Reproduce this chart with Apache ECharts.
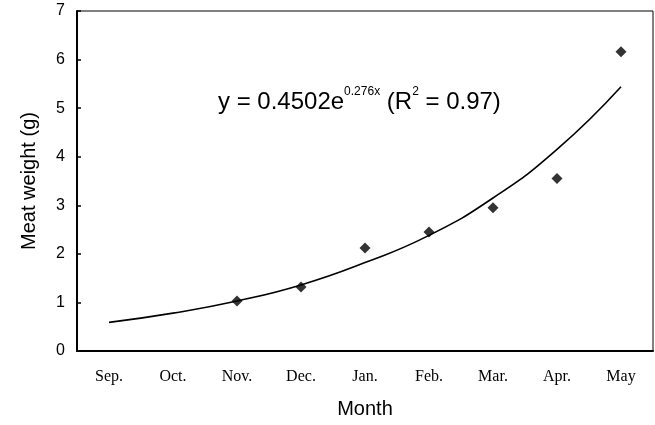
<!DOCTYPE html>
<html>
<head>
<meta charset="utf-8">
<script src="https://cdn.jsdelivr.net/npm/echarts@6/dist/echarts.min.js"></script>
<style>html,body{margin:0;padding:0;background:#fff;}#c{width:655px;height:425px;}</style>
</head>
<body>
<div id="c"></div>
<script>
const months = ['Sep.', 'Oct.', 'Nov.', 'Dec.', 'Jan.', 'Feb.', 'Mar.', 'Apr.', 'May'];
const observed = ['-', '-', 1.03, 1.32, 2.12, 2.45, 2.95, 3.55, 6.16];
const fitted = [0.59, 0.78, 1.03, 1.36, 1.82, 2.38, 3.15, 4.15, 5.44];
const yTicks = [0, 1, 2, 3, 4, 5, 6, 7];

const chart = echarts.init(document.getElementById('c'));
chart.setOption({
  animation: false,
  backgroundColor: '#fff',
  grid: { left: 77, right: 2, top: 11, bottom: 74, show: true, borderColor: '#000', borderWidth: 1 },
  graphic: [{
    type: 'text',
    left: 218,
    top: 86,
    style: {
      text: '{b|y = 0.4502e}{s|0.276x}{b| (R}{s|2}{b| = 0.97)}',
      rich: {
        b: { fontFamily: 'Liberation Sans', fontSize: 24, lineHeight: 32, fill: '#000', verticalAlign: 'middle' },
        s: { fontFamily: 'Liberation Sans', fontSize: 12, lineHeight: 16, fill: '#000', verticalAlign: 'top' }
      }
    }
  }],
  xAxis: {
    type: 'category',
    data: months,
    boundaryGap: true,
    name: 'Month',
    nameLocation: 'middle',
    nameGap: 48,
    nameTextStyle: { fontFamily: 'Liberation Sans', fontSize: 20, color: '#000' },
    axisLine: { lineStyle: { color: '#000', width: 2 } },
    axisTick: { inside: true, length: 5, lineStyle: { color: '#000', width: 1.5 } },
    axisLabel: { fontFamily: 'Liberation Serif', fontSize: 16, color: '#000', margin: 18 },
    splitLine: { show: false }
  },
  yAxis: {
    type: 'value',
    min: yTicks[0],
    max: yTicks[yTicks.length - 1],
    interval: 1,
    name: 'Meat weight (g)',
    nameLocation: 'middle',
    nameGap: 38,
    nameTextStyle: { fontFamily: 'Liberation Sans', fontSize: 20, color: '#000' },
    axisLine: { show: true, lineStyle: { color: '#000', width: 2 } },
    axisTick: { show: true, inside: true, length: 4, lineStyle: { color: '#000', width: 1.5 } },
    axisLabel: { fontFamily: 'Liberation Sans', fontSize: 16, color: '#000', margin: 12 },
    splitLine: { show: false }
  },
  series: [
    {
      type: 'line',
      data: fitted,
      smooth: true,
      showSymbol: false,
      symbol: 'none',
      lineStyle: { color: '#000', width: 1.6 },
      z: 2
    },
    {
      type: 'scatter',
      data: observed,
      symbol: 'diamond',
      symbolSize: 11,
      itemStyle: { color: '#000' },
      z: 3
    }
  ]
});
</script>
</body>
</html>
